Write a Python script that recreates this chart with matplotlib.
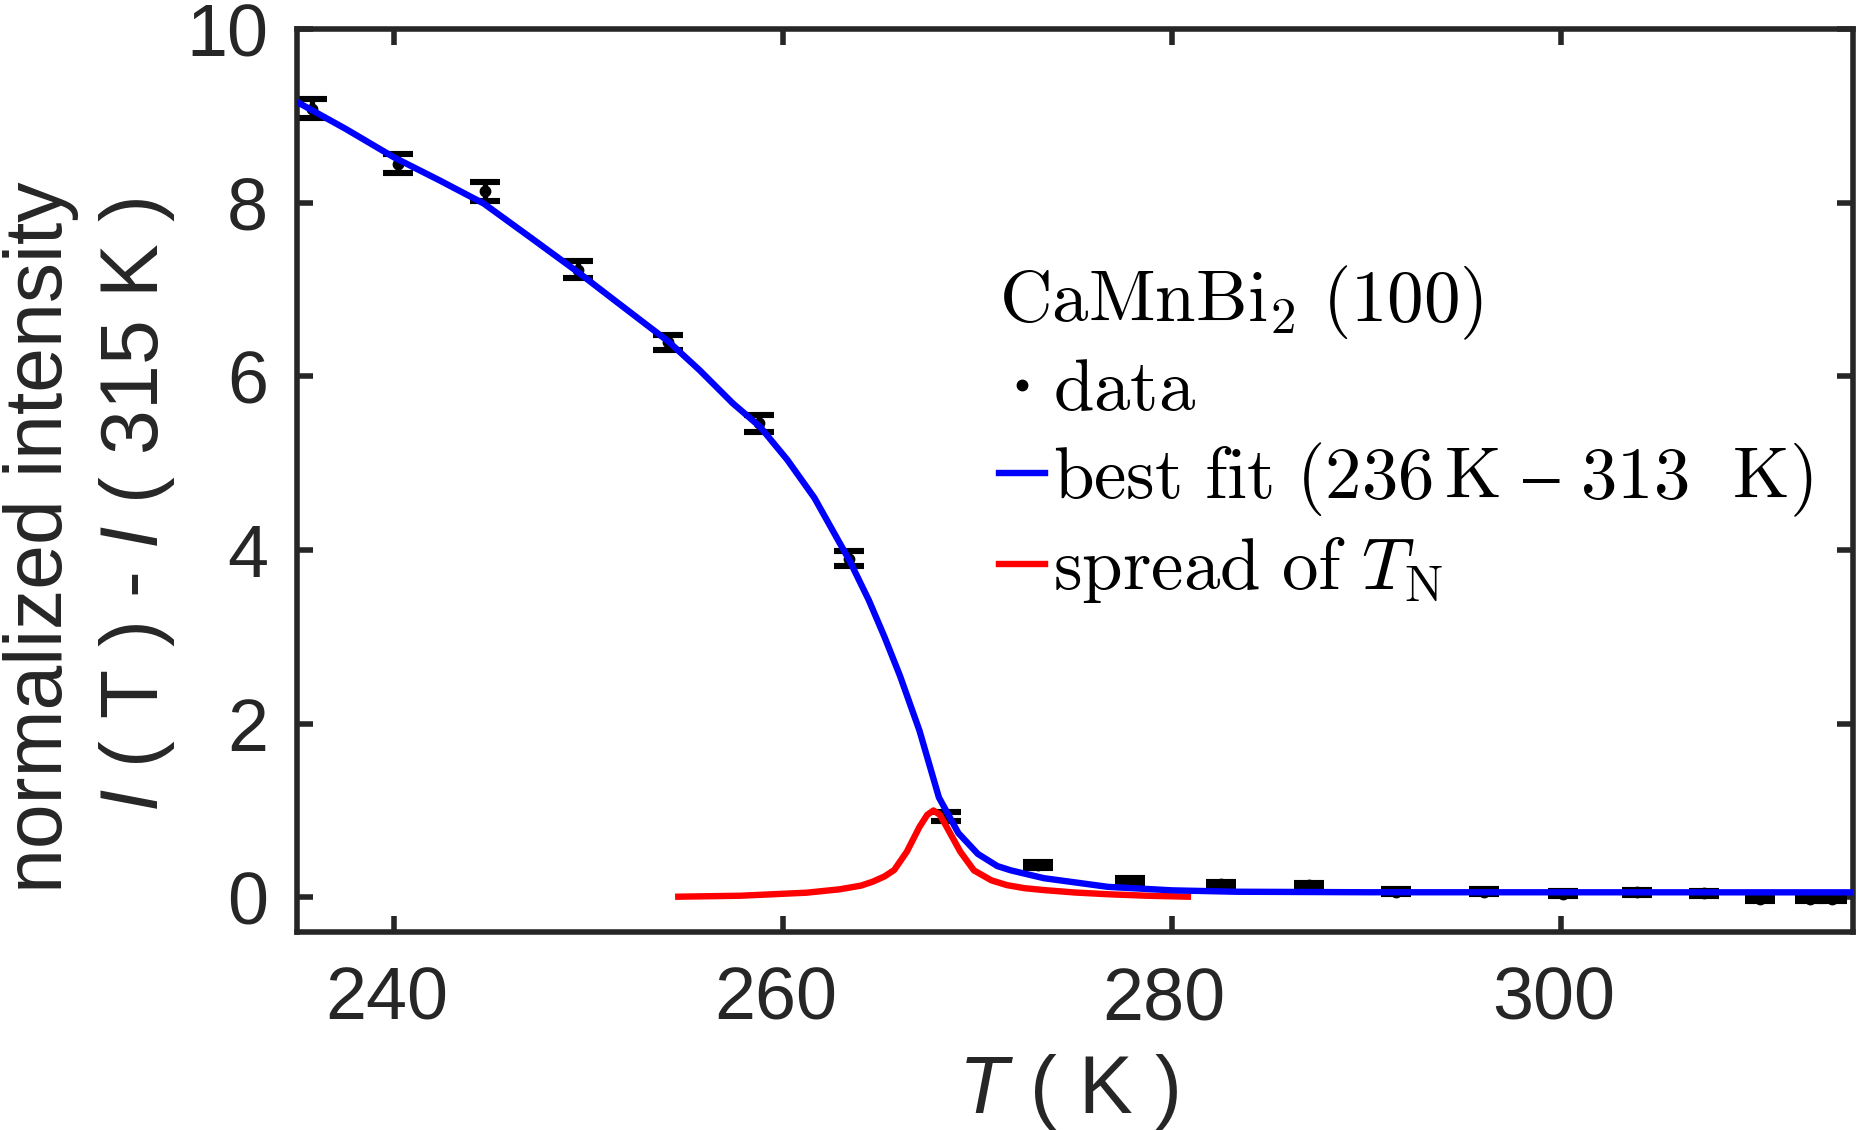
"""
CaMnBi2 (100) magnetic peak intensity vs temperature, with order-parameter fit
and the spread of T_N.
"""

import matplotlib

matplotlib.use("Agg")
import matplotlib.pyplot as plt
from matplotlib.font_manager import FontProperties
from matplotlib.transforms import ScaledTranslation

plt.rcParams["font.family"] = ["Liberation Sans", "DejaVu Sans"]
plt.rcParams["mathtext.fontset"] = "custom"
plt.rcParams["mathtext.rm"] = "Liberation Sans"
plt.rcParams["mathtext.it"] = "Liberation Sans:italic"

# measured points: I(T) - I(315 K)
temp_data = [235.75, 240.2, 244.65, 249.45, 254.05, 258.75, 263.4, 268.35,
             273.1, 277.85, 282.5, 287.05, 291.5, 296.0, 300.1, 303.9,
             307.35, 310.2, 312.8, 313.9]
int_data = [9.08, 8.45, 8.13, 7.23, 6.39, 5.46, 3.90, 0.93,
            0.375, 0.19, 0.15, 0.14, 0.065, 0.065, 0.04, 0.058,
            0.047, -0.02, -0.025, -0.025]
int_err = [0.11, 0.11, 0.105, 0.10, 0.09, 0.10, 0.09, 0.05,
           0.035, 0.035, 0.03, 0.03, 0.03, 0.03, 0.03, 0.03,
           0.03, 0.02, 0.02, 0.02]

# best fit curve (236 K - 313 K)
temp_fit = [235.0, 237.5, 240.0, 242.3, 244.6, 247.0, 249.5, 251.3, 254.1,
            255.7, 257.4, 258.8, 260.2, 261.6, 262.6, 263.4, 264.4, 265.2,
            266.0, 267.0, 268.0, 269.0, 270.0, 271.0, 271.7, 273.4, 276.7,
            280.0, 283.3, 290.0, 315.0]
int_fit = [9.16, 8.85, 8.52, 8.26, 7.99, 7.60, 7.19, 6.88, 6.40,
           6.07, 5.69, 5.42, 5.04, 4.60, 4.20, 3.88, 3.42, 3.00,
           2.55, 1.92, 1.15, 0.74, 0.50, 0.36, 0.31, 0.22, 0.12,
           0.08, 0.064, 0.058, 0.057]

# distribution of T_N
temp_spread = [254.6, 257.8, 261.2, 262.9, 264.0, 264.6, 265.2, 265.7,
               266.35, 267.0, 267.4, 267.72, 268.05, 268.4, 269.1, 269.8,
               270.7, 271.5, 272.4, 273.35, 275.0, 276.7, 278.7, 280.8]
int_spread = [0.007, 0.018, 0.053, 0.092, 0.135, 0.18, 0.24, 0.314,
              0.525, 0.81, 0.95, 1.0, 0.95, 0.81, 0.525, 0.31,
              0.195, 0.14, 0.105, 0.084, 0.055, 0.035, 0.018, 0.007]

x_ticks = [240, 260, 280, 300]
y_ticks = [0, 2, 4, 6, 8, 10]

ink = "#262626"
en_dash = "\u2013"

fig = plt.figure(figsize=(18.59, 11.30), dpi=100)
ax = fig.add_axes([0.1598, 0.1752, 0.8370, 0.7991])

ax.errorbar(temp_data, int_data, yerr=int_err, fmt="none", ecolor="black",
            elinewidth=3.8, capsize=10.8, capthick=4.4, zorder=2)
(h_data,) = ax.plot(temp_data, int_data, ".", color="black", markersize=15,
                    zorder=3, label=r"$\mathrm{data}$")
(h_spread,) = ax.plot(temp_spread, int_spread, color="#ff0000", linewidth=4.6,
                      zorder=4, label=r"$\mathrm{spread\ of\ }T_\mathrm{N}$")
(h_fit,) = ax.plot(temp_fit, int_fit, color="#0000ff", linewidth=4.6, zorder=5,
                   label=r"$\mathrm{best\ fit\ (236\,K\ " + en_dash
                   + r"\ 313\ \ K)}$")

ax.set_xlim(235, 315)
ax.set_ylim(-0.4, 10)
ax.set_xticks(x_ticks)
ax.set_yticks(y_ticks)

for s in ax.spines.values():
    s.set_linewidth(4)
    s.set_color(ink)
ax.tick_params(direction="in", length=11.5, width=4, top=True, right=True,
               labelsize=53, colors=ink)
ax.tick_params(axis="x", pad=24)
ax.tick_params(axis="y", pad=21)

# MATLAB export puts the x tick labels a few pixels left of their ticks
shift = ScaledTranslation(-8 / 100, 0, fig.dpi_scale_trans)
for lab in ax.get_xticklabels():
    lab.set_transform(lab.get_transform() + shift)

ax.set_xlabel(r"$T$ ( K )", fontsize=58, color=ink)
ax.xaxis.label.set_va("baseline")
ax.xaxis.set_label_coords(0.4955, -0.2005)

ax.text(-0.1510, 0.4369, "normalized intensity", transform=ax.transAxes,
        rotation=90, rotation_mode="anchor", ha="center", va="baseline",
        fontsize=58, color=ink)
ax.text(-0.0893, 0.4729, r"$I$ ( T ) - $I$ ( 315 K )", transform=ax.transAxes,
        rotation=90, rotation_mode="anchor", ha="center", va="baseline",
        fontsize=58, color=ink)

leg_font = FontProperties(size=52.5, math_fontfamily="cm")
leg = ax.legend(handles=[h_data, h_fit, h_spread],
                title=r"$\mathrm{CaMnBi_2\ (100)}$",
                title_fontproperties=leg_font, prop=leg_font,
                loc="upper left", bbox_to_anchor=(0.4510, 0.7400),
                frameon=False, borderpad=0, borderaxespad=0,
                handlelength=0.64, handletextpad=0.1, labelspacing=0.22,
                numpoints=1, alignment="left")

fig.savefig("out.png", dpi=100)
